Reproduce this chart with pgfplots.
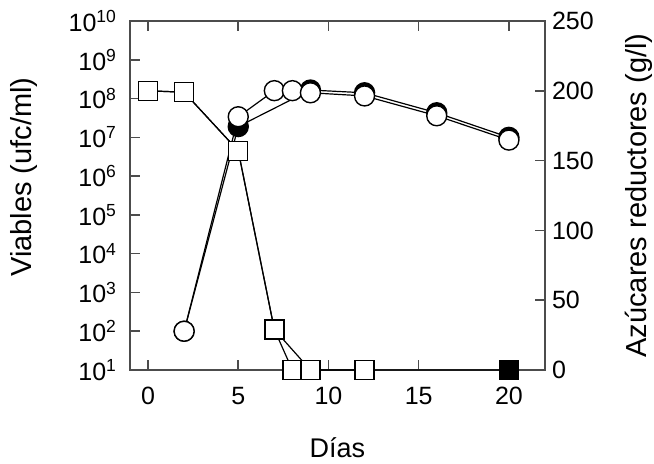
\documentclass[border=0pt]{standalone}
\usepackage{pgfplots}
\pgfplotsset{compat=1.18}
\usepackage{fontspec}
\setmainfont{Liberation Sans}

% viables (ufc/ml), log axis
\pgfplotstableread{
x y
2 100
5 3.4e7
7 1.6e8
8 1.6e8
9 1.41e8
12 1.17e8
16 3.6e7
20 8.5e6
}\openviab
\pgfplotstableread{
x y
2 100
5 1.9e7
9 1.66e8
12 1.41e8
16 4.3e7
20 1.0e7
}\fullviab
% azucares reductores (g/l)
\pgfplotstableread{
x y
0 200
2 199
5 157
7 29
8 0
9 0
12 0
}\openazu
\pgfplotstableread{
x y
0 200
2 199
5 157
7 29
9 0
12 0
20 0
}\fullazu

\begin{document}
\begin{tikzpicture}
\pgfplotsset{
  every axis/.append style={
    scale only axis, width=207.5pt, height=174.5pt,
    xmin=-1, xmax=22, clip=false,
    tick align=inside, major tick length=5pt,
    axis line style={black!70, line width=0.8pt},
    tick style={black!70, line width=0.8pt},
    tick label style={font=\fontsize{12.5}{14}\selectfont},
    label style={font=\fontsize{14.5}{17}\selectfont},
    /pgf/number format/assume math mode=true,
  },
}
\begin{axis}[
  name=main,
  ymode=log, log basis y=10, ymin=1e1, ymax=1e10,
  yminorticks=false,
  xtick={0,5,10,15,20}, xtick pos=both, ytick pos=left,
  ytick={1e1,1e2,1e3,1e4,1e5,1e6,1e7,1e8,1e9,1e10},
  yticklabels={10\textsuperscript{1},10\textsuperscript{2},10\textsuperscript{3},10\textsuperscript{4},10\textsuperscript{5},10\textsuperscript{6},10\textsuperscript{7},10\textsuperscript{8},10\textsuperscript{9},10\textsuperscript{10}},
  yticklabel style={xshift=-3pt},
  xticklabel style={yshift=-5pt},
  xlabel={Días},
  xlabel style={at={(axis description cs:0.5,-0.224)}, anchor=center, font=\fontsize{13.5}{16}\selectfont},
  ylabel={Viables (ufc/ml)},
  ylabel style={at={(axis description cs:-0.255,0.553)}, anchor=center},
]
\addplot[black, line width=0.6pt, mark=*, mark size=5pt, mark options={fill=black, line width=0.7pt}] table {\fullviab};
\addplot[black, line width=0.6pt, mark=*, mark size=5pt, mark options={fill=white, line width=0.7pt}] table {\openviab};
\end{axis}
\begin{axis}[
  ymin=0, ymax=250, ytick={0,50,...,250},
  axis x line=none, axis y line*=right,
  ylabel={Azúcares reductores (g/l)},
  ylabel style={at={(axis description cs:1.227,0.5)}, anchor=center, rotate=0},
]
\addplot[black, line width=0.6pt, mark=square*, mark size=4.75pt, mark options={fill=black, line width=0.7pt}] table {\fullazu};
\addplot[black, line width=0.6pt, mark=square*, mark size=4.75pt, mark options={fill=white, line width=0.7pt}] table {\openazu};
\end{axis}
% page margins as in the reference
\pgfresetboundingbox
\path[use as bounding box] ([shift={(-65pt,-46.5pt)}]main.south west) rectangle ++(327pt,231.5pt);
\end{tikzpicture}
\end{document}
